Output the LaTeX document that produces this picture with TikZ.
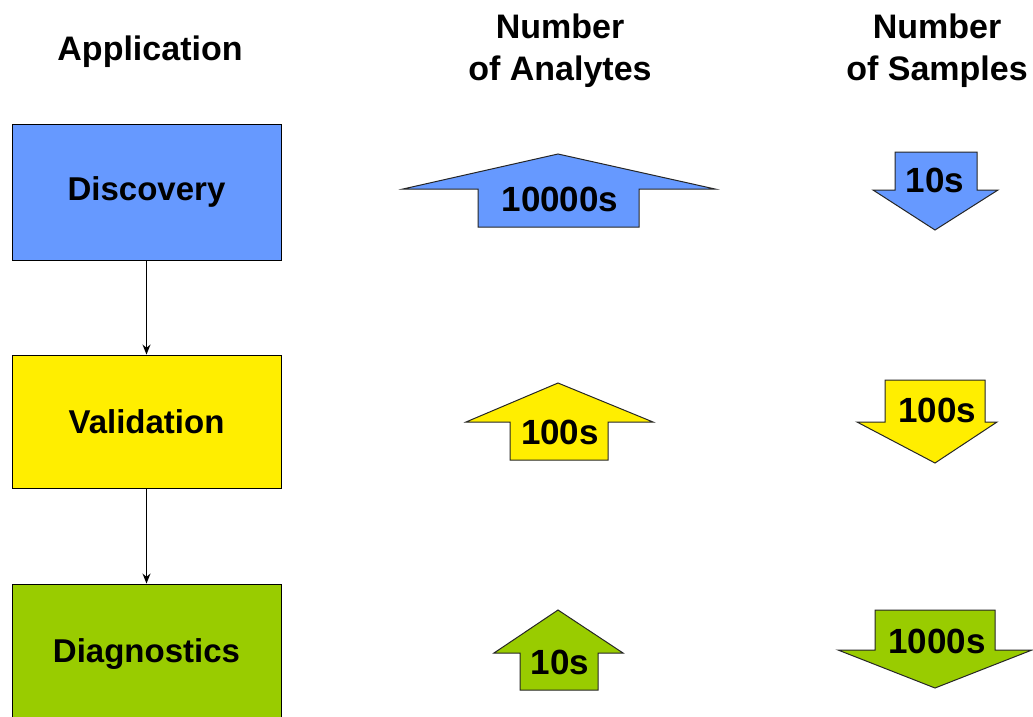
\documentclass[tikz,border=0pt]{standalone}
\usepackage{fontspec}
\setmainfont{Liberation Sans}
\usetikzlibrary{arrows.meta}
\definecolor{discblue}{HTML}{6699FF}
\definecolor{valiyellow}{HTML}{FFEE00}
\definecolor{diaggreen}{HTML}{99CC00}

\begin{document}
\begin{tikzpicture}[x=1pt,y=-1pt,
  appbox/.style={draw=black, line width=0.9pt, minimum width=269pt, inner sep=0pt,
    font=\fontsize{33}{40}\selectfont\bfseries},
  colhead/.style={font=\fontsize{34}{42}\selectfont\bfseries, align=center},
  fatarrow/.style={draw=black!85, line width=1pt, line join=miter},
  count/.style={font=\fontsize{35}{40}\selectfont\bfseries, inner sep=0pt}]
\useasboundingbox (0,0) rectangle (1033,717);

% column heads
\node[colhead] at(150,52)(apphead){Application};
\node[colhead] at(560,51)(anahead){Number\\of Analytes};
\node[colhead] at(937,51)(samhead){Number\\of Samples};

% application boxes
\node[appbox, fill=discblue, minimum height=136pt] at(146.5,192)(disc){Discovery};
\node[appbox, fill=valiyellow, minimum height=133pt] at(146.5,421.5)(vali){Validation};
\node[appbox, fill=diaggreen, minimum height=140pt] at(146.5,654)(diag){Diagnostics};
\path[-{Stealth[length=10pt,width=8pt]}, line width=1.3pt]
    (disc) edge (vali)
    (vali) edge (diag);

% number of analytes
\draw[fatarrow, fill=discblue] (403,189) -- (558,154) -- (715,189) -- (639,189)
    -- (639,227) -- (478,227) -- (478,189) -- cycle;
\node[count] at(560,199)(anadisc){10000s};
\draw[fatarrow, fill=valiyellow] (466,422) -- (558,383) -- (653,422) -- (608,422)
    -- (608,460) -- (510,460) -- (510,422) -- cycle;
\node[count] at(560,432)(anavali){100s};
\draw[fatarrow, fill=diaggreen] (494,653) -- (558,610) -- (623,653) -- (598,653)
    -- (598,690) -- (520,690) -- (520,653) -- cycle;
\node[count] at(560,662)(anadiag){10s};

% number of samples
\draw[fatarrow, fill=discblue] (895,152) -- (977,152) -- (977,190) -- (998,190)
    -- (935,230) -- (873,190) -- (895,190) -- cycle;
\node[count] at(935,180)(samdisc){10s};
\draw[fatarrow, fill=valiyellow] (885,380) -- (985,380) -- (985,422) -- (997,422)
    -- (935,463) -- (857,422) -- (885,422) -- cycle;
\node[count] at(937,410)(samvali){100s};
\draw[fatarrow, fill=diaggreen] (875,610) -- (995,610) -- (995,650) -- (1032,650)
    -- (935,688) -- (838,650) -- (875,650) -- cycle;
\node[count] at(937,641)(samdiag){1000s};
\end{tikzpicture}
\end{document}
